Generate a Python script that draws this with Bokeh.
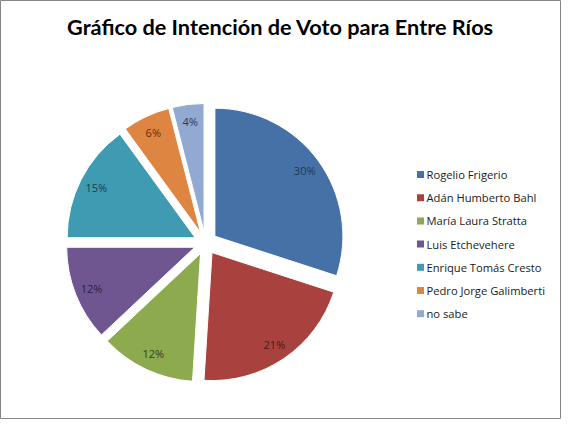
import numpy as np
from bokeh.plotting import figure
from bokeh.models import Range1d, ColumnDataSource
from bokeh.core.properties import value
from bokeh.embed import file_html
from bokeh.resources import INLINE

title = "Gráfico de Intención de Voto para Entre Ríos"
candidates = [" Rogelio Frigerio", "Adán Humberto Bahl", "María Laura Stratta",
              "Luis Etchevehere", "Enrique Tomás Cresto", "Pedro Jorge Galimberti", "no sabe"]
percents = [30, 21, 12, 12, 15, 6, 4]
colors = ["#4571A6", "#A9423F", "#8DAA4F", "#6F5690", "#3F9BB1", "#DD8541", "#92A9D1"]
label_colors = ["#1E3556", "#4A1918", "#33421A", "#2E2140", "#173F4A", "#5A3010", "#2B3A5A"]

W, H = 561, 419
p = figure(width=W, height=H, output_backend="svg", toolbar_location=None,
           x_range=Range1d(0, W), y_range=Range1d(0, H), min_border=0)
p.axis.visible = False
p.grid.visible = False
p.outline_line_color = "#868686"
p.outline_line_width = 1
p.background_fill_color = "white"
p.border_fill_color = "white"

cx, cy, r, explode, lab_r = 205, 176.5, 128, 11.6, 111
vals = np.array(percents, dtype=float)
frac = vals / vals.sum()
cum = np.concatenate([[0], np.cumsum(frac)])
start = np.pi / 2 - cum[:-1] * 2 * np.pi
end = np.pi / 2 - cum[1:] * 2 * np.pi
mid = (start + end) / 2
xs = cx + explode * np.cos(mid)
ys = cy + explode * np.sin(mid)

src = ColumnDataSource(dict(x=xs, y=ys, start=start, end=end, color=colors,
                            lx=xs + lab_r * np.cos(mid), ly=ys + lab_r * np.sin(mid),
                            lab=[f"{v}%" for v in percents], lc=label_colors))
p.wedge(x="x", y="y", radius=r, start_angle="start", end_angle="end", direction="clock",
        fill_color="color", line_color="white", line_width=1, source=src)
p.text(x="lx", y="ly", text="lab", text_color="lc", text_font=value("Open Sans"),
       text_font_size="11px", text_align="center", text_baseline="middle", source=src)

# title
p.text(x=[280], y=[393], text=[title], text_font=value("Lato"), text_font_style="bold",
       text_font_size="21.7px", text_align="center", text_baseline="middle", text_color="#000000")

# legend
n = len(candidates)
ly0, dy = 245, 23.2
leg_y = [ly0 - i * dy for i in range(n)]
p.rect(x=[420] * n, y=leg_y, width=7, height=7, fill_color=colors, line_color=None)
p.text(x=[426] * n, y=leg_y, text=candidates, text_font=value("Open Sans"),
       text_font_size="11.2px", text_align="left", text_baseline="middle", text_color="#1a1a1a")

open("out.html", "w").write(file_html(p, INLINE))
